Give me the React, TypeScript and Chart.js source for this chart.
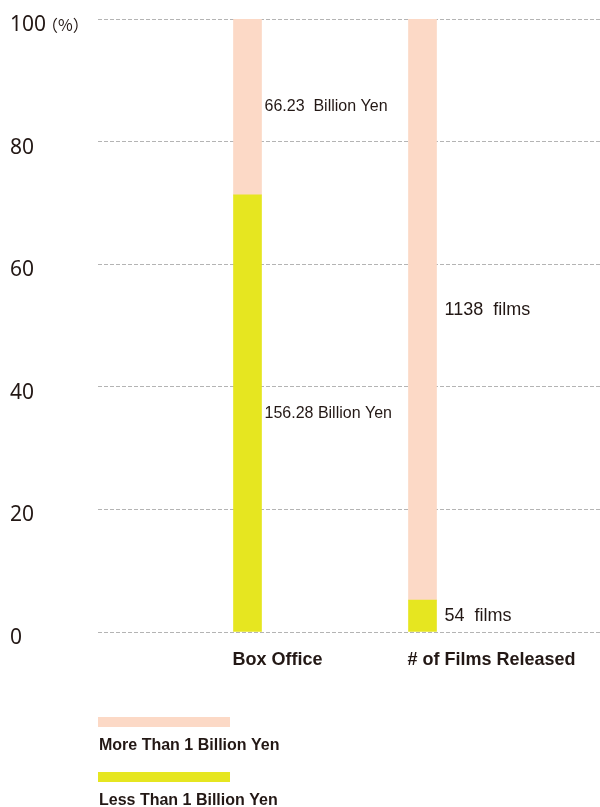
import React, { useEffect, useRef } from 'react';
import { Chart, registerables } from 'chart.js';

Chart.register(...registerables);

// ---- data ----
const categories = ['Box Office', '# of Films Released'];
const categoryX = [1, 2];
const lessPct = [71.3, 5.2];
const morePct = [28.7, 94.8];
const lessLabels = ['156.28 Billion Yen', '54  films'];
const moreLabels = ['66.23  Billion Yen', '1138  films'];
const seriesNames = ['More Than 1 Billion Yen', 'Less Than 1 Billion Yen'];
const yTicks = [0, 20, 40, 60, 80, 100];

const PEACH = '#FCD9C6';
const GREEN = '#E6E620';
const TEXT = '#231815';

const overlay = {
  id: 'overlay',
  afterDatasetsDraw(chart: any) {
    const ctx = chart.ctx;
    const yScale = chart.scales.y;
    ctx.save();
    ctx.fillStyle = TEXT;
    ctx.textBaseline = 'middle';
    ctx.textAlign = 'left';

    // value labels
    const labelSets = [lessLabels, moreLabels];
    chart.data.datasets.forEach((ds: any, di: number) => {
      const meta = chart.getDatasetMeta(di);
      meta.data.forEach((bar: any, j: number) => {
        const p = bar.getProps(['x', 'y', 'base', 'width'], true);
        const size = j === 0 ? 16 : 18;
        const gap = j === 0 ? 3 : 8;
        ctx.font = `${size}px "Liberation Sans", Arial, sans-serif`;
        ctx.fillText(labelSets[di][j], p.x + p.width / 2 + gap, (p.y + p.base) / 2);
      });
    });

    // category labels
    ctx.font = 'bold 18px "Liberation Sans", Arial, sans-serif';
    const meta0 = chart.getDatasetMeta(0);
    categories.forEach((c, j) => {
      const bar = meta0.data[j];
      const p = bar.getProps(['x', 'width'], true);
      ctx.fillText(c, p.x - p.width / 2 - 1, yScale.bottom + 28);
    });

    // unit after top tick
    ctx.font = '16px "Noto Sans CJK JP", "Noto Sans", sans-serif';
    ctx.fillText('（%）', 42, yScale.getPixelForValue(100) + 6);

    // legend
    const items = [
      { name: seriesNames[0], color: PEACH },
      { name: seriesNames[1], color: GREEN },
    ];
    ctx.font = 'bold 16px "Liberation Sans", Arial, sans-serif';
    items.forEach((it, i) => {
      const top = 717 + i * 55;
      ctx.fillStyle = it.color;
      ctx.fillRect(98, top, 132, 10);
      ctx.fillStyle = TEXT;
      ctx.fillText(it.name, 99, top + 28.5);
    });

    ctx.restore();
  },
};

export default function App() {
  const ref = useRef<HTMLCanvasElement>(null);

  useEffect(() => {
    if (!ref.current) return;
    const chart = new Chart(ref.current, {
      type: 'bar',
      data: {
        datasets: [
          {
            label: seriesNames[1],
            data: lessPct.map((v, i) => ({ x: categoryX[i], y: v })),
            backgroundColor: GREEN,
            borderWidth: 0,
            barThickness: 28,
          },
          {
            label: seriesNames[0],
            data: morePct.map((v, i) => ({ x: categoryX[i], y: v })),
            backgroundColor: PEACH,
            borderWidth: 0,
            barThickness: 28,
          },
        ],
      },
      options: {
        responsive: false,
        animation: false,
        layout: { padding: { left: 10, top: 19, right: 0, bottom: 0 } },
        plugins: {
          legend: { display: false },
          tooltip: { enabled: false },
        },
        scales: {
          x: {
            type: 'linear',
            stacked: true,
            offset: false,
            min: 0.1457,
            max: 3.0143,
            grid: { display: false, offset: false },
            border: { display: false },
            ticks: { display: false },
            afterFit: (s: any) => {
              s.height = 175;
              s.paddingLeft = 0;
              s.paddingRight = 0;
            },
          },
          y: {
            stacked: true,
            min: 0,
            max: 100,
            afterBuildTicks: (s: any) => {
              s.ticks = yTicks.map((v) => ({ value: v }));
            },
            grid: {
              color: '#b4b4b4',
              lineWidth: 1,
              drawTicks: false,
            },
            border: { display: false, dash: [4, 2] },
            ticks: {
              crossAlign: 'far',
              labelOffset: 6,
              padding: 0,
              color: TEXT,
              font: { family: '"Noto Sans", "Open Sans", sans-serif', size: 21 },
            },
            afterFit: (s: any) => {
              s.width = 88;
              s.paddingTop = 0;
              s.paddingBottom = 0;
            },
          },
        },
      },
      plugins: [overlay],
    } as any);
    return () => chart.destroy();
  }, []);

  return (
    <div style={{ position: 'absolute', left: 0, top: 0, width: 600, height: 807, background: '#fff' }}>
      <canvas ref={ref} width={600} height={807} />
    </div>
  );
}
